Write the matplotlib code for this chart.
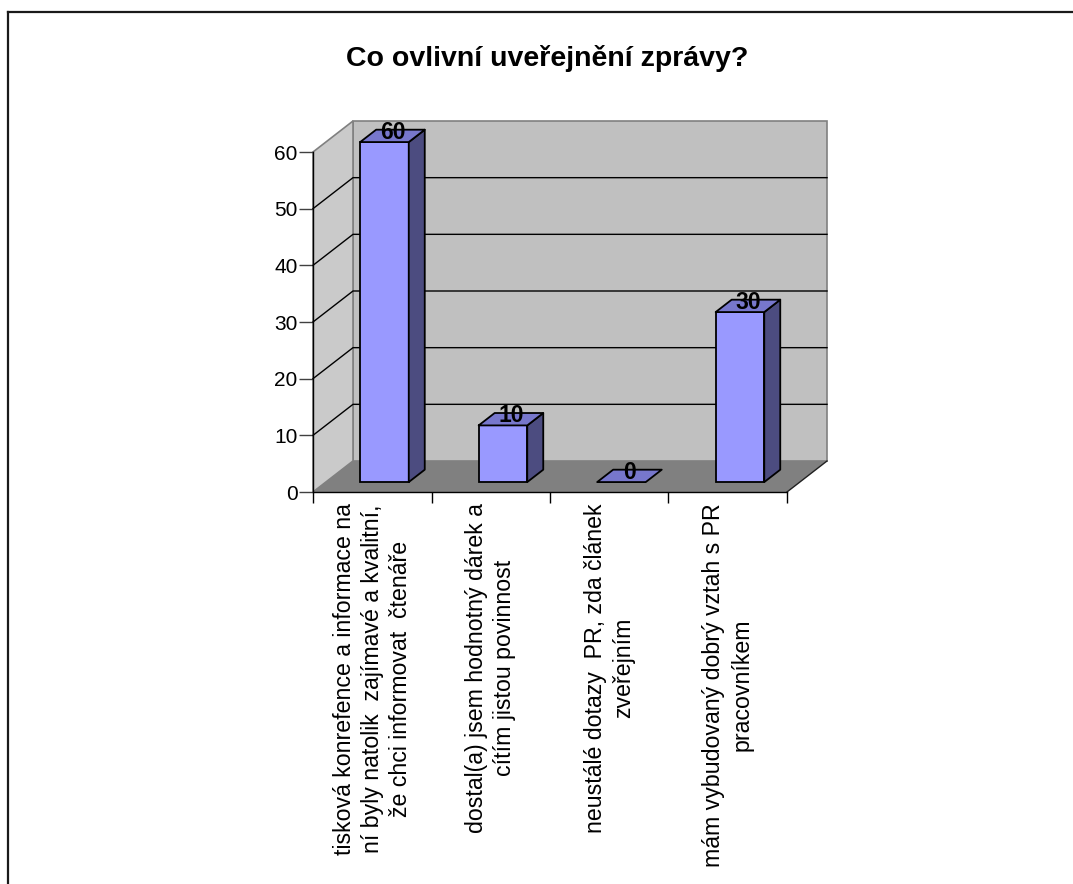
import matplotlib
matplotlib.use("Agg")
import matplotlib.pyplot as plt
from matplotlib.patches import Polygon
from matplotlib.lines import Line2D
import numpy as np

plt.rcParams['font.family'] = ['Liberation Sans', 'DejaVu Sans']

title = "Co ovlivní uveřejnění zprávy?"
categories = [
    "tisková konrefence a informace na\nní byly natolik  zajímavé a kvalitní,\nže chci informovat  čtenáře",
    "dostal(a) jsem hodnotný dárek a\ncítím jistou povinnost",
    "neustálé dotazy  PR, zda článek\nzveřejním",
    "mám vybudovaný dobrý vztah s PR\npracovníkem",
]
values = [60, 10, 0, 30]
y_ticks = [0, 10, 20, 30, 40, 50, 60]

W, H = 1073, 884
fig = plt.figure(figsize=(W / 100, H / 100), dpi=100)
fig.patch.set_facecolor('white')

# front plane of the 3D box in pixels
x_left, x_right = 313, 787
y_zero, y_top = 492, 152
ax = fig.add_axes([x_left / W, 1 - y_zero / H, (x_right - x_left) / W, (y_zero - y_top) / H])
n = len(categories)
ymax = y_ticks[-1]
ax.set_xlim(0, n)
ax.set_ylim(0, ymax)
ax.set_facecolor('none')

# depth of the box expressed in data units
px_per_cat = (x_right - x_left) / n
px_per_val = (y_zero - y_top) / ymax
ddx = 40 / px_per_cat
ddy = 31 / px_per_val

def P(x, y, z):
    return (x + z * ddx, y + z * ddy)

# walls and floor
back = Polygon([P(0, 0, 1), P(n, 0, 1), P(n, ymax, 1), P(0, ymax, 1)],
               closed=True, facecolor='#C0C0C0', edgecolor='#808080', lw=1.2, clip_on=False, zorder=1)
side = Polygon([P(0, 0, 0), P(0, 0, 1), P(0, ymax, 1), P(0, ymax, 0)],
               closed=True, facecolor='#CACACA', edgecolor='#808080', lw=1.2, clip_on=False, zorder=1)
floor = Polygon([P(0, 0, 0), P(n, 0, 0), P(n, 0, 1), P(0, 0, 1)],
                closed=True, facecolor='#808080', edgecolor='none', clip_on=False, zorder=1)
for p in (back, side, floor):
    ax.add_patch(p)
ax.add_line(Line2D(*zip(P(n, 0, 0), P(n, 0, 1)), color='#202020', lw=1.0, clip_on=False, zorder=2))

# gridlines on the walls
for v in y_ticks[1:-1]:
    pts = [P(0, v, 0), P(0, v, 1), P(n, v, 1)]
    xs, ys = zip(*pts)
    ax.add_line(Line2D(xs, ys, color='black', lw=1.0, clip_on=False, zorder=2))

# bars
x0, x1 = 0.29, 0.70
z0, z1 = 0.32, 0.72
front_col, side_col, top_col = '#9999FF', '#4C4C80', '#7777CC'
xs_front = [i + x0 + z0 * ddx for i in range(n)]
ax.bar(xs_front, values, width=(x1 - x0), bottom=z0 * ddy, align='edge',
       color=front_col, edgecolor='black', lw=1.3, clip_on=False, zorder=4)
for i, v in enumerate(values):
    b = 0
    sidepoly = [P(i + x1, b, z0), P(i + x1, b, z1), P(i + x1, v, z1), P(i + x1, v, z0)]
    toppoly = [P(i + x0, v, z0), P(i + x1, v, z0), P(i + x1, v, z1), P(i + x0, v, z1)]
    if v > 0:
        ax.add_patch(Polygon(sidepoly, closed=True, facecolor=side_col, edgecolor='black',
                             lw=1.3, clip_on=False, zorder=4, joinstyle='round'))
    ax.add_patch(Polygon(toppoly, closed=True, facecolor=top_col, edgecolor='black',
                         lw=1.3, clip_on=False, zorder=4, joinstyle='round'))
    cx, cy = P(i + (x0 + x1) / 2, v, (z0 + z1) / 2)
    ax.text(cx, cy + 0.6, str(v), ha='center', va='center', fontsize=16.5,
            fontweight='bold', color='black', zorder=6, clip_on=False)

# axes lines and ticks
for s in ('top', 'right'):
    ax.spines[s].set_visible(False)
ax.spines['left'].set_color('black')
ax.spines['bottom'].set_color('black')
ax.spines['left'].set_linewidth(1.0)
ax.spines['bottom'].set_linewidth(1.0)
ax.spines['left'].set_zorder(3)
ax.spines['bottom'].set_zorder(3)

ax.set_yticks(y_ticks)
ax.set_yticklabels([str(t) for t in y_ticks])
ax.tick_params(axis='y', direction='out', length=10, width=1.0, pad=1, labelsize=15,
               colors='black', color='#404040')

ax.set_xticks(np.arange(n + 1))
ax.set_xticklabels([])
ax.tick_params(axis='x', which='major', direction='out', length=8, width=1.0)
ax.set_xticks(np.arange(n) + 0.5, minor=True)
ax.set_xticklabels(categories, minor=True, rotation=90, ha='center', va='top',
                   multialignment='center', fontsize=16.7, linespacing=1.28)
ax.tick_params(axis='x', which='minor', length=0, pad=8)

# title and chart-area border
fig.text(547 / W, 1 - 58 / H, title, ha='center', va='center', fontsize=20.5, fontweight='bold')
fig.add_artist(Line2D([8 / W, 8 / W], [1 - 12 / H, 0], color='#1a1a1a', lw=1.6, transform=fig.transFigure))
fig.add_artist(Line2D([8 / W, 1], [1 - 12 / H, 1 - 12 / H], color='#1a1a1a', lw=1.6, transform=fig.transFigure))

fig.savefig('out.png', dpi=100)
